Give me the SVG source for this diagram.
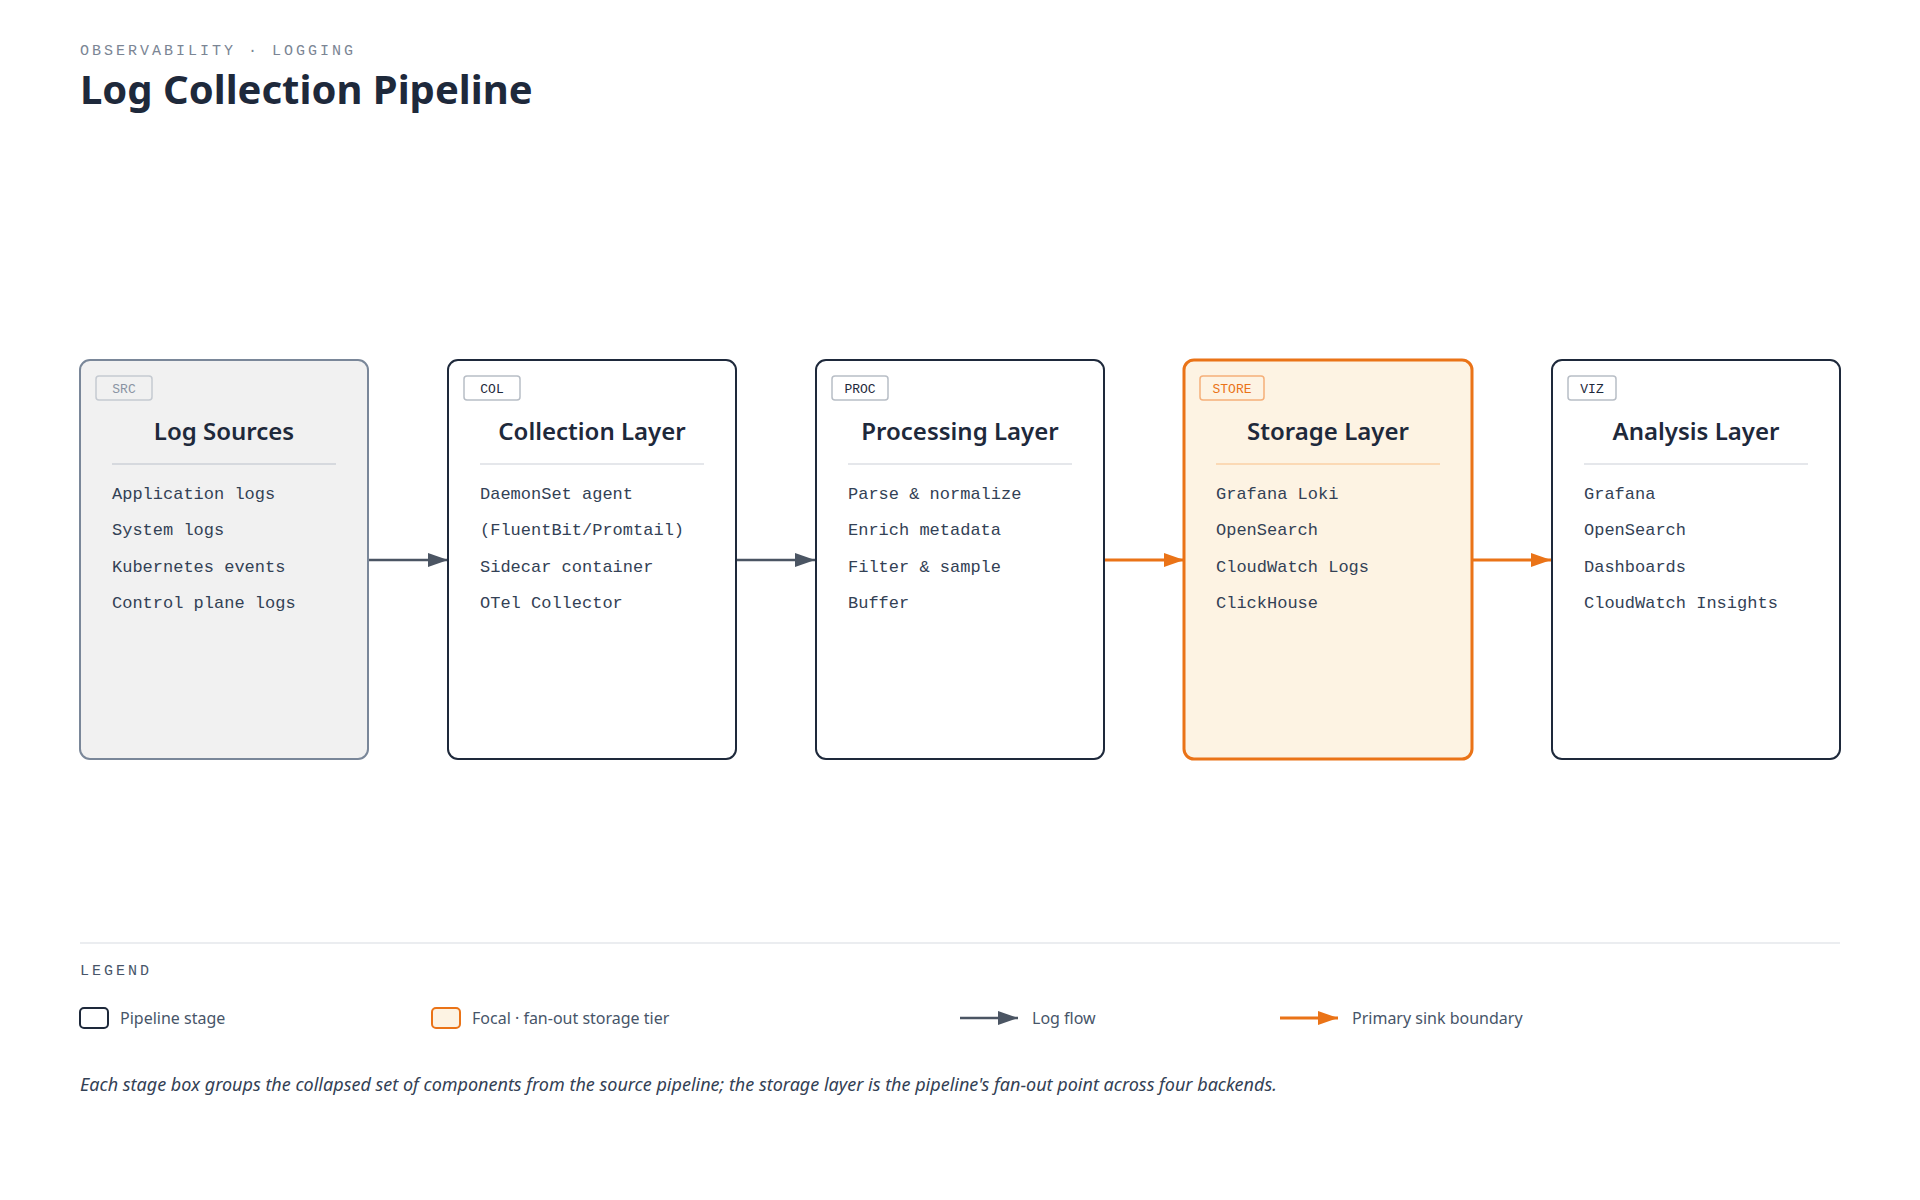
<svg xmlns="http://www.w3.org/2000/svg" width="1920" height="1200" viewBox="0 0 1920 1200">
<defs>
<style>
.sub{font-family:"Liberation Mono",monospace;font-size:15px;letter-spacing:3px;fill:#7b8594}
.title{font-family:"Noto Sans",sans-serif;font-weight:700;font-size:40px;fill:#1e293b}
.box{fill:#fff;stroke:#1e293b;stroke-width:2}
.head{font-family:"Noto Sans",sans-serif;font-weight:600;font-size:24px;fill:#1e293b;text-anchor:middle}
.item{font-family:"Liberation Mono",monospace;font-size:17px;fill:#334155}
.tag{fill:#fff;stroke:#b8bec6;stroke-width:1.5}
.tagt{font-family:"Liberation Mono",monospace;font-size:13px;fill:#1e293b;text-anchor:middle}
.div{stroke:#e5e7eb;stroke-width:2}
.leg{font-family:"Noto Sans",sans-serif;font-size:16px;fill:#475569}
.cap{font-family:"Noto Sans",sans-serif;font-style:italic;font-size:18px;fill:#334155}
</style>
<marker id="ag" viewBox="0 0 10 10" refX="10" refY="5" markerWidth="10" markerHeight="10" markerUnits="userSpaceOnUse" orient="auto"><path d="M0,0 L10,5 L0,10 z" fill="#4b5563"/></marker>
<marker id="ao" viewBox="0 0 10 10" refX="10" refY="5" markerWidth="14" markerHeight="14" markerUnits="userSpaceOnUse" orient="auto"><path d="M0,0 L10,5 L0,10 z" fill="#ea7317"/></marker>
<marker id="agl" viewBox="0 0 10 10" refX="10" refY="5" markerWidth="20" markerHeight="14" markerUnits="userSpaceOnUse" orient="auto" preserveAspectRatio="none"><path d="M0,0 L10,5 L0,10 z" fill="#4b5563"/></marker>
<marker id="aol" viewBox="0 0 10 10" refX="10" refY="5" markerWidth="20" markerHeight="14" markerUnits="userSpaceOnUse" orient="auto" preserveAspectRatio="none"><path d="M0,0 L10,5 L0,10 z" fill="#ea7317"/></marker>
</defs>
<rect width="1920" height="1200" fill="#fff"/>
<text class="sub" x="80" y="55">OBSERVABILITY · LOGGING</text>
<text class="title" x="80" y="104">Log Collection Pipeline</text>

<g id="connectors">
<line x1="368" y1="560" x2="448" y2="560" stroke="#4b5563" stroke-width="2.5" marker-end="url(#agl)"/>
<line x1="736" y1="560" x2="815" y2="560" stroke="#4b5563" stroke-width="2.5" marker-end="url(#agl)"/>
<line x1="1104" y1="560" x2="1184" y2="560" stroke="#ea7317" stroke-width="3" marker-end="url(#aol)"/>
<line x1="1472" y1="560" x2="1551" y2="560" stroke="#ea7317" stroke-width="3" marker-end="url(#aol)"/>
</g>

<g id="src">
<rect x="80" y="360" width="288" height="399" rx="10" fill="#f1f1f1" stroke="#7a8799" stroke-width="2"/>
<rect x="96" y="376" width="56" height="24" rx="3" fill="#f1f1f1" stroke="#c5cad1" stroke-width="1.5"/>
<text class="tagt" x="124" y="393" fill="#8a94a3" style="fill:#8a94a3">SRC</text>
<text class="head" x="224" y="440">Log Sources</text>
<line class="div" x1="112" y1="464" x2="336" y2="464" style="stroke:#d6d9de"/>
<text class="item" x="112" y="499">Application logs</text>
<text class="item" x="112" y="535">System logs</text>
<text class="item" x="112" y="572">Kubernetes events</text>
<text class="item" x="112" y="608">Control plane logs</text>
</g>

<g id="col">
<rect class="box" x="448" y="360" width="288" height="399" rx="10"/>
<rect class="tag" x="464" y="376" width="56" height="24" rx="3"/>
<text class="tagt" x="492" y="393">COL</text>
<text class="head" x="592" y="440">Collection Layer</text>
<line class="div" x1="480" y1="464" x2="704" y2="464"/>
<text class="item" x="480" y="499">DaemonSet agent</text>
<text class="item" x="480" y="535">(FluentBit/Promtail)</text>
<text class="item" x="480" y="572">Sidecar container</text>
<text class="item" x="480" y="608">OTel Collector</text>
</g>

<g id="proc">
<rect class="box" x="816" y="360" width="288" height="399" rx="10"/>
<rect class="tag" x="832" y="376" width="56" height="24" rx="3"/>
<text class="tagt" x="860" y="393">PROC</text>
<text class="head" x="960" y="440">Processing Layer</text>
<line class="div" x1="848" y1="464" x2="1072" y2="464"/>
<text class="item" x="848" y="499">Parse &amp; normalize</text>
<text class="item" x="848" y="535">Enrich metadata</text>
<text class="item" x="848" y="572">Filter &amp; sample</text>
<text class="item" x="848" y="608">Buffer</text>
</g>

<g id="store">
<rect x="1184" y="360" width="288" height="399" rx="10" fill="#fdf3e3" stroke="#ea7317" stroke-width="3"/>
<rect x="1200" y="376" width="64" height="24" rx="3" fill="#fdf3e3" stroke="#f5b07a" stroke-width="1.5"/>
<text class="tagt" x="1232" y="393" style="fill:#ea7317">STORE</text>
<text class="head" x="1328" y="440">Storage Layer</text>
<line class="div" x1="1216" y1="464" x2="1440" y2="464" style="stroke:#fbd9b5"/>
<text class="item" x="1216" y="499">Grafana Loki</text>
<text class="item" x="1216" y="535">OpenSearch</text>
<text class="item" x="1216" y="572">CloudWatch Logs</text>
<text class="item" x="1216" y="608">ClickHouse</text>
</g>

<g id="viz">
<rect class="box" x="1552" y="360" width="288" height="399" rx="10"/>
<rect class="tag" x="1568" y="376" width="48" height="24" rx="3"/>
<text class="tagt" x="1592" y="393">VIZ</text>
<text class="head" x="1696" y="440">Analysis Layer</text>
<line class="div" x1="1584" y1="464" x2="1808" y2="464"/>
<text class="item" x="1584" y="499">Grafana</text>
<text class="item" x="1584" y="535">OpenSearch</text>
<text class="item" x="1584" y="572">Dashboards</text>
<text class="item" x="1584" y="608">CloudWatch Insights</text>
</g>

<g id="legend">
<line x1="80" y1="943" x2="1840" y2="943" stroke="#e5e7eb" stroke-width="1.5"/>
<text class="sub" x="80" y="975" style="fill:#475569">LEGEND</text>
<rect x="80" y="1008" width="28" height="20" rx="4" fill="#fff" stroke="#1e293b" stroke-width="2"/>
<text class="leg" x="120" y="1024">Pipeline stage</text>
<rect x="432" y="1008" width="28" height="20" rx="4" fill="#fdf3e3" stroke="#ea7317" stroke-width="2"/>
<text class="leg" x="472" y="1024">Focal · fan-out storage tier</text>
<line x1="960" y1="1018" x2="1018" y2="1018" stroke="#4b5563" stroke-width="2.5" marker-end="url(#agl)"/>
<text class="leg" x="1032" y="1024">Log flow</text>
<line x1="1280" y1="1018" x2="1338" y2="1018" stroke="#ea7317" stroke-width="3" marker-end="url(#aol)"/>
<text class="leg" x="1352" y="1024">Primary sink boundary</text>
<text class="cap" x="80" y="1091">Each stage box groups the collapsed set of components from the source pipeline; the storage layer is the pipeline's fan-out point across four backends.</text>
</g>
</svg>
